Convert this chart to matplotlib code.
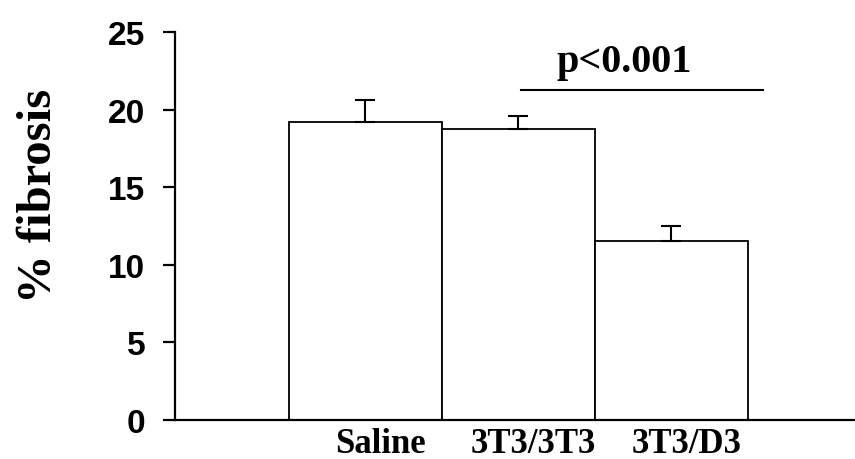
import matplotlib
matplotlib.use("Agg")
import matplotlib.pyplot as plt
import numpy as np

# Data
groups = ["Saline", "3T3/3T3", "3T3/D3"]
fibrosis = [19.25, 18.77, 11.53]
err_up = [1.41, 0.82, 1.01]
sig_text = "p<0.001"
sig_y = 21.3

plt.rcParams["font.family"] = "Liberation Sans"
fig = plt.figure(figsize=(8.55, 4.6), dpi=100, facecolor="white")
ax = fig.add_axes([0.2047, 0.0848, 0.7953, 0.8424])

x = np.arange(len(groups))
ax.bar(x, fibrosis, width=1.0, color="white", edgecolor="black", linewidth=1.3,
       zorder=2)
ax.errorbar(x, fibrosis, yerr=[np.zeros(len(err_up)), err_up], fmt="none",
            ecolor="black", elinewidth=1.5, capsize=7, capthick=1.5, zorder=3)

# significance bar
ax.plot([1.02, 2.6], [sig_y, sig_y], color="black", linewidth=1.5)
ax.text(1.69, 23.1, sig_text, ha="center", va="center", fontsize=29,
        fontweight="bold", family="Liberation Serif")

ax.set_xlim(-1.244, 3.2)
ax.set_ylim(0, 25)
ax.set_yticks([0, 5, 10, 15, 20, 25])
ax.tick_params(axis="y", direction="out", length=8.5, width=1.6, labelsize=24,
               pad=13)
for t in ax.get_yticklabels():
    t.set_fontweight("bold")

ax.set_xticks(x + 0.1)
ax.set_xticklabels(groups, fontsize=25, fontweight="bold",
                   family="Liberation Serif")
ax.tick_params(axis="x", length=0, pad=5)

ax.set_ylabel("% fibrosis", fontsize=35, fontweight="bold",
              family="Liberation Serif", va="center")
ax.yaxis.set_label_coords(-0.2, 0.58)

for s in ["top", "right"]:
    ax.spines[s].set_visible(False)
ax.spines["left"].set_linewidth(1.6)
ax.spines["bottom"].set_linewidth(1.6)

fig.savefig("out.png", dpi=100, facecolor="white")
